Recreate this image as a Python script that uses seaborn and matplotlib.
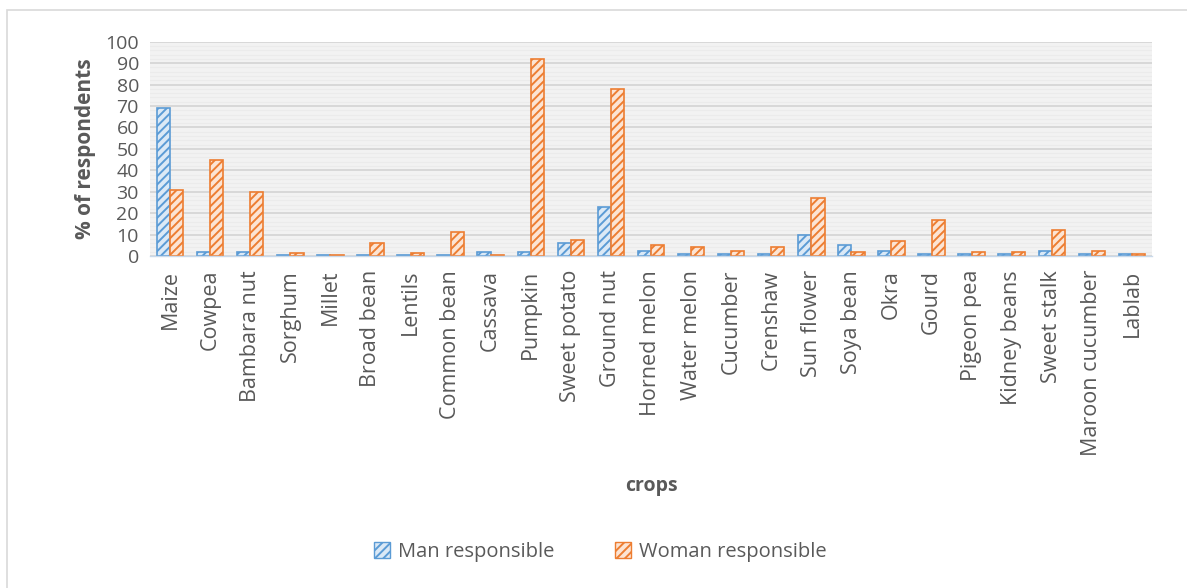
import matplotlib
matplotlib.use("Agg")
import matplotlib.pyplot as plt
import matplotlib.patches as mpatches
import seaborn as sns
import pandas as pd

crops = ["Maize", "Cowpea", "Bambara nut", "Sorghum", "Millet", "Broad bean",
         "Lentils", "Common bean", "Cassava", "Pumpkin", "Sweet potato",
         "Ground nut", "Horned melon", "Water melon", "Cucumber", "Crenshaw",
         "Sun flower", "Soya bean", "Okra", "Gourd", "Pigeon pea",
         "Kidney beans", "Sweet stalk", "Maroon cucumber", "Lablab"]
man = [69, 2, 2, 0.5, 0.5, 0.5, 0.5, 0.5, 2, 2, 6, 23, 2.5, 0.8, 1, 0.8,
       10, 5, 2.5, 0.8, 1, 1, 2.5, 1, 0.8]
woman = [31, 45, 30, 1.5, 0.5, 6, 1.5, 11, 0.5, 92, 7.5, 78, 5, 4.4, 2.5, 4.4,
         27, 2, 7, 17, 1.8, 1.8, 12, 2.5, 0.8]
series = ["Man responsible", "Woman responsible"]
yticks = list(range(0, 101, 10))

df = pd.DataFrame({"crop": crops, series[0]: man, series[1]: woman})
long = df.melt(id_vars="crop", var_name="who", value_name="pct")

sns.set_theme(style="white")
plt.rcParams["font.family"] = ["Open Sans", "DejaVu Sans"]
plt.rcParams["hatch.linewidth"] = 1.4

text_col = "#595959"
edge_cols = ["#5b9bd5", "#ed7d31"]
face_cols = ["#dbe9f6", "#fce4d3"]

fig = plt.figure(figsize=(11.87, 5.88), dpi=100)
ax = fig.add_axes([150 / 1187, 1 - 256 / 588, 1002 / 1187, (256 - 41.7) / 588])

sns.barplot(data=long, x="crop", y="pct", hue="who", order=crops,
            hue_order=series, width=0.66, ax=ax, legend=False, errorbar=None)

for cont, ec, fc in zip(ax.containers, edge_cols, face_cols):
    for bar in cont:
        bar.set_facecolor(fc)
        bar.set_edgecolor(ec)
        bar.set_hatch("////")
        bar.set_linewidth(1.2)

ax.set_facecolor("#f2f2f2")
ax.set_ylim(0, 100)
ax.set_xlim(-0.5, len(crops) - 0.5)
ax.set_yticks(yticks)
ax.set_yticks(range(0, 101, 2), minor=True)
ax.grid(axis="y", which="major", color="#d6d6d6", linewidth=1.3)
ax.grid(axis="y", which="minor", color="#ebebeb", linewidth=0.8)
ax.set_axisbelow(True)
for s in ["top", "right", "left"]:
    ax.spines[s].set_visible(False)
ax.spines["bottom"].set_color("#c9d9ea")
ax.spines["bottom"].set_linewidth(1.0)

ax.tick_params(axis="both", which="both", length=0, colors=text_col)
ax.tick_params(axis="y", labelsize=14, pad=8)
ax.tick_params(axis="x", labelsize=15.5, pad=10)
plt.setp(ax.get_xticklabels(), rotation=90)

ax.set_xlabel("crops", fontsize=14, fontweight="bold", color=text_col,
              labelpad=14)
ax.set_ylabel("% of respondents", fontsize=15, fontweight="bold",
              color=text_col, labelpad=7)

handles = [mpatches.Patch(facecolor=fc, edgecolor=ec, hatch="////",
                          linewidth=1.0)
           for ec, fc in zip(edge_cols, face_cols)]
leg = fig.legend(handles, series, loc="center", ncol=2, frameon=False,
                 bbox_to_anchor=(600 / 1187, 1 - 552 / 588),
                 fontsize=14.5, handlelength=0.8, handleheight=0.8,
                 handletextpad=0.4, columnspacing=3.0)
for t in leg.get_texts():
    t.set_color(text_col)

# outer chart border
fig.add_artist(mpatches.Rectangle((7 / 1187, -0.01), 1.05, 1 - 10 / 588 + 0.01,
                                  transform=fig.transFigure, fill=False,
                                  edgecolor="#d9d9d9", linewidth=1.2))

fig.savefig("out.png", dpi=100, facecolor="white")
